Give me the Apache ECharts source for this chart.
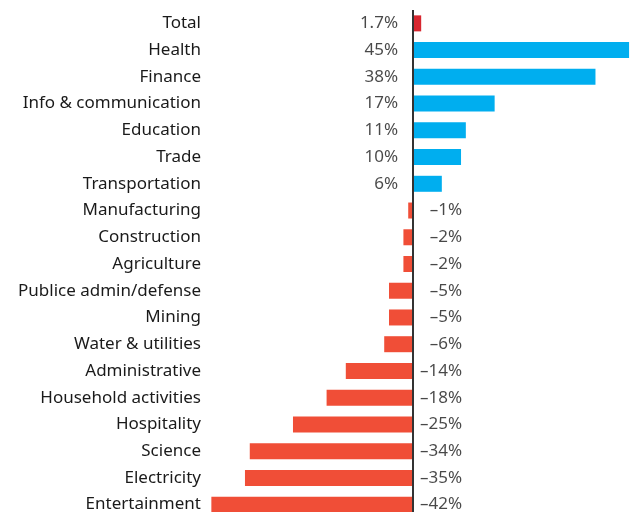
<!DOCTYPE html>
<html>
<head>
<meta charset="utf-8">
<script src="https://cdn.jsdelivr.net/npm/echarts@6/dist/echarts.min.js"></script>
<style>
  html, body { margin: 0; padding: 0; background: #fff; }
  #chart { width: 631px; height: 512px; }
</style>
</head>
<body>
<div id="chart"></div>
<script>
const categorias = ['Total', 'Health', 'Finance', 'Info & communication', 'Education', 'Trade',
  'Transportation', 'Manufacturing', 'Construction', 'Agriculture', 'Publice admin/defense',
  'Mining', 'Water & utilities', 'Administrative', 'Household activities', 'Hospitality',
  'Science', 'Electricity', 'Entertainment'];
const valores = [1.7, 45, 38, 17, 11, 10, 6, -1, -2, -2, -5, -5, -6, -14, -18, -25, -34, -35, -42];
const etiquetas = ['1.7%', '45%', '38%', '17%', '11%', '10%', '6%', '–1%', '–2%', '–2%', '–5%',
  '–5%', '–6%', '–14%', '–18%', '–25%', '–34%', '–35%', '–42%'];

const AZUL = '#00AEEF';
const ROJO = '#F04E37';
const ROJO_TOTAL = '#D7262F';
const fuente = 'Noto Sans';

let barras = valores.map(function (v, i) {
  let color = i === 0 ? ROJO_TOTAL : (v >= 0 ? AZUL : ROJO);
  return { value: v, itemStyle: { color: color } };
});

// todas las etiquetas van alineadas a la derecha
let textos = valores.map(function (v, i) {
  return {
    value: [0, categorias[i]],
    label: {
      show: true,
      formatter: etiquetas[i],
      position: v >= 0 ? 'left' : 'right',
      align: 'right',
      distance: v >= 0 ? 15 : 49
    }
  };
});

let option = {
  animation: false,
  grid: { left: 208, top: 10, width: 423, height: 508, outerBoundsMode: 'none' },
  xAxis: {
    type: 'value',
    min: -42.7,
    max: 45.4,
    show: false
  },
  yAxis: {
    type: 'category',
    data: categorias,
    inverse: true,
    axisLine: { show: false },
    axisTick: { show: false },
    splitLine: { show: false },
    axisLabel: { margin: 7, color: '#1a1a1a', fontSize: 17, fontFamily: fuente }
  },
  series: [
    {
      type: 'bar',
      data: barras,
      barWidth: 16,
      markLine: {
        silent: true,
        symbol: ['none', 'none'],
        label: { show: false },
        lineStyle: { color: '#333', width: 2, type: 'solid' },
        data: [{ xAxis: 0 }]
      }
    },
    {
      type: 'scatter',
      data: textos,
      symbolSize: 0,
      z: 5,
      label: { color: '#1a1a1a', fontSize: 17, fontFamily: fuente }
    }
  ]
};

var myChart = echarts.init(document.getElementById('chart'));
myChart.setOption(option);
</script>
</body>
</html>
